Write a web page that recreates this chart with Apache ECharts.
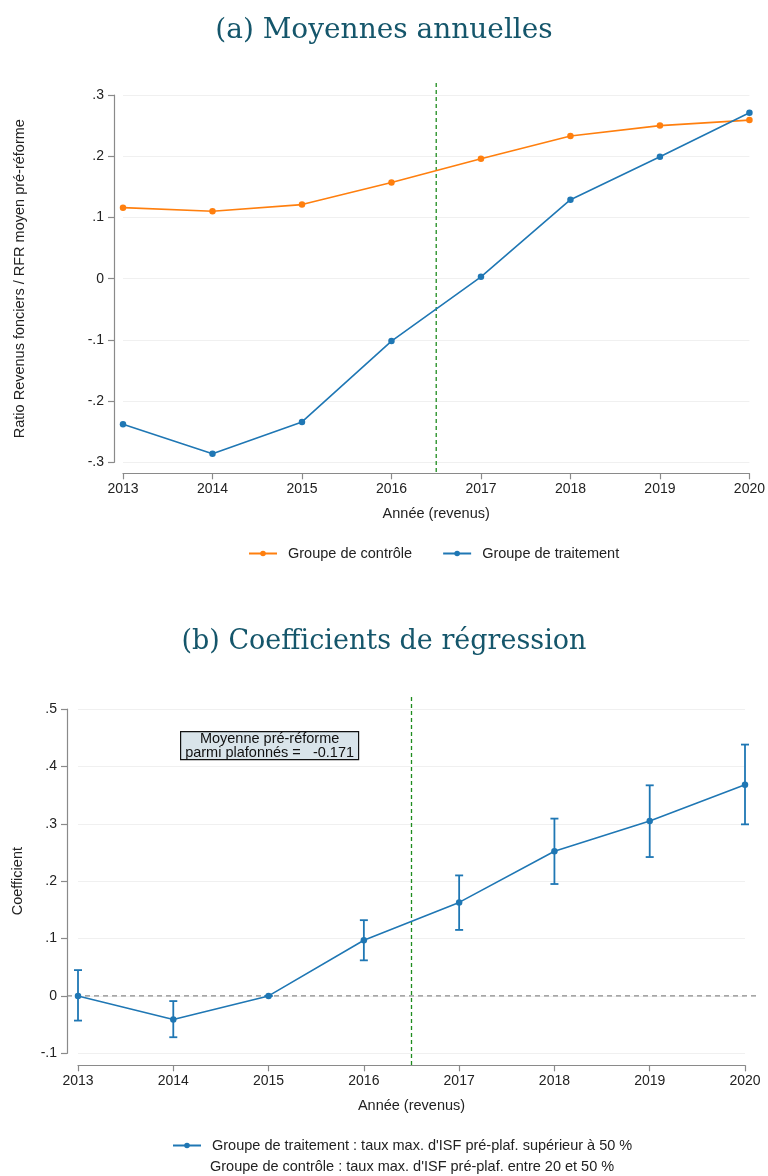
<!DOCTYPE html>
<html><head><meta charset="utf-8">
<script src="https://cdn.jsdelivr.net/npm/echarts@6/dist/echarts.min.js"></script>
<style>html,body{margin:0;padding:0;background:#fff}#c{width:768px;height:1176px}</style>
</head><body><div id="c"></div>
<script>
// ---------- data ----------
const years = [2013, 2014, 2015, 2016, 2017, 2018, 2019, 2020];
const controlMeans = [0.116, 0.110, 0.121, 0.157, 0.196, 0.233, 0.250, 0.259];
const treatMeans = [-0.238, -0.286, -0.234, -0.102, 0.003, 0.129, 0.199, 0.271];
const coefs = [0.000, -0.041, 0.000, 0.097, 0.163, 0.252, 0.305, 0.368];
const ciLow = [-0.043, -0.072, 0.000, 0.062, 0.115, 0.195, 0.242, 0.299];
const ciHigh = [0.045, -0.009, 0.000, 0.132, 0.210, 0.309, 0.367, 0.438];
const reformYear = 2016.5;
const titleA = '(a) Moyennes annuelles';
const titleB = '(b) Coefficients de régression';
const yNameA = 'Ratio Revenus fonciers / RFR moyen pré-réforme';
const yNameB = 'Coefficient';
const xName = 'Année (revenus)';
const nameControl = 'Groupe de contrôle';
const nameTreat = 'Groupe de traitement';
const nameCoef = "Groupe de traitement : taux max. d'ISF pré-plaf. supérieur à 50 %";
const noteControl = "Groupe de contrôle : taux max. d'ISF pré-plaf. entre 20 et 50 %";
const boxLines = ['Moyenne pré-réforme', 'parmi plafonnés =   -0.171'];
const yRangeA = [-0.3, 0.3];
const yRangeB = [-0.1, 0.5];
const yStep = 0.1;

// ---------- styles ----------
const BLUE = '#1f77b4', ORANGE = '#ff7f0e', GREEN = '#1e8c1e';
const FONT = '"Liberation Sans", Arial, sans-serif';
const AXIS = '#8a8a8a';
const TXT = '#222';
const FS = 14.5, TFS = 14;

function yFmt(v) {
  const r = Math.round(v * 10) / 10;
  if (r === 0) return '0';
  return (r < 0 ? '-' : '') + String(Math.abs(r)).replace(/^0/, '');
}

function xAxisCfg(gridIndex, offset) {
  return {
    type: 'value', gridIndex, min: years[0], max: years[years.length - 1], interval: 1,
    offset,
    name: xName, nameLocation: 'middle', nameGap: 33,
    nameTextStyle: { fontFamily: FONT, fontSize: FS, color: TXT },
    axisLine: { show: true, onZero: false, lineStyle: { color: AXIS, width: 1.2 } },
    axisTick: { show: true, length: 6, lineStyle: { color: AXIS, width: 1.2 } },
    axisLabel: { margin: 9, fontFamily: FONT, fontSize: TFS, color: TXT, formatter: v => String(v) },
    splitLine: { show: false }
  };
}
function yAxisCfg(gridIndex, range, offset, name, nameGap) {
  return {
    type: 'value', gridIndex, min: range[0], max: range[1], interval: yStep,
    offset,
    name, nameLocation: 'middle', nameGap,
    nameTextStyle: { fontFamily: FONT, fontSize: FS, color: TXT },
    axisLine: { show: true, onZero: false, lineStyle: { color: AXIS, width: 1.2 } },
    axisTick: { show: true, length: 6, lineStyle: { color: AXIS, width: 1.2 } },
    axisLabel: { margin: 10, fontFamily: FONT, fontSize: TFS, color: TXT, formatter: yFmt },
    splitLine: { show: true, lineStyle: { color: '#f0f0f0', width: 1 } }
  };
}

function vline(xi, yi, topExtra, botExtra) {
  return {
    type: 'custom', xAxisIndex: xi, yAxisIndex: yi, silent: true, z: 1,
    data: [[reformYear, 0]],
    renderItem(params, api) {
      const cs = params.coordSys;
      const x = api.coord([api.value(0), 0])[0];
      return { type: 'line', shape: { x1: x, y1: cs.y - topExtra, x2: x, y2: cs.y + cs.height + botExtra },
        style: { stroke: GREEN, lineWidth: 1.3, lineDash: [4, 3] } };
    }
  };
}

const chart = echarts.init(document.getElementById('c'), null, { renderer: 'canvas' });
chart.setOption({
  animation: false,
  backgroundColor: '#fff',
  title: [
    { text: titleA, left: 'center', top: 12, textStyle: { fontFamily: '"DejaVu Serif", serif', fontSize: 28, fontWeight: 'normal', color: '#15566b' } },
    { text: titleB, left: 'center', top: 623, textStyle: { fontFamily: '"DejaVu Serif", serif', fontSize: 27, fontWeight: 'normal', color: '#15566b' } }
  ],
  grid: [
    { left: 123, right: 18, top: 95, height: 367.3 },
    { left: 78, right: 23, top: 709, height: 344.3 }
  ],
  xAxis: [xAxisCfg(0, 11), xAxisCfg(1, 12)],
  yAxis: [yAxisCfg(0, yRangeA, 9, yNameA, 87), yAxisCfg(1, yRangeB, 11, yNameB, 42)],
  legend: [
    { data: [nameControl, nameTreat], left: 243, top: 541, itemWidth: 28, itemHeight: 7, itemGap: 30,
      textStyle: { fontFamily: FONT, fontSize: FS, color: TXT, padding: [0, 0, 0, 6] } },
    { data: [nameCoef], left: 167, top: 1133, itemWidth: 28, itemHeight: 7,
      textStyle: { fontFamily: FONT, fontSize: FS, color: TXT, padding: [0, 0, 0, 6] } }
  ],
  graphic: [
    { type: 'group', left: 180, top: 731, children: [
      { type: 'rect', shape: { x: 0, y: 0, width: 178, height: 28 }, style: { fill: '#d9e4ea', stroke: '#111', lineWidth: 1.2 } },
      { type: 'text', x: 89, y: 7.5, style: { text: boxLines[0], font: FS + 'px ' + FONT, fill: '#111', textAlign: 'center', textVerticalAlign: 'middle' } },
      { type: 'text', x: 89, y: 21, style: { text: boxLines[1], font: FS + 'px ' + FONT, fill: '#111', textAlign: 'center', textVerticalAlign: 'middle' } }
    ] },
    { type: 'text', left: 210, top: 1159, style: { text: noteControl, font: FS + 'px ' + FONT, fill: TXT } }
  ],
  series: [
    vline(0, 0, 12, 11),
    {
      name: nameControl, type: 'line', xAxisIndex: 0, yAxisIndex: 0, z: 3,
      data: years.map((y, i) => [y, controlMeans[i]]),
      color: ORANGE, symbol: 'circle', symbolSize: 6.5, lineStyle: { width: 1.6, color: ORANGE }, itemStyle: { color: ORANGE }
    },
    {
      name: nameTreat, type: 'line', xAxisIndex: 0, yAxisIndex: 0, z: 3,
      data: years.map((y, i) => [y, treatMeans[i]]),
      color: BLUE, symbol: 'circle', symbolSize: 6.5, lineStyle: { width: 1.6, color: BLUE }, itemStyle: { color: BLUE }
    },
    vline(1, 1, 12, 12),
    {
      type: 'custom', xAxisIndex: 1, yAxisIndex: 1, silent: true, z: 1,
      data: [[years[0], 0]],
      renderItem(params, api) {
        const cs = params.coordSys;
        const y = api.coord([api.value(0), 0])[1];
        return { type: 'line', shape: { x1: cs.x - 11, y1: y, x2: cs.x + cs.width + 12, y2: y },
          style: { stroke: '#8a8a8a', lineWidth: 1.3, lineDash: [5, 4] } };
      }
    },
    {
      type: 'custom', xAxisIndex: 1, yAxisIndex: 1, silent: true, z: 2,
      data: years.map((y, i) => [y, ciLow[i], ciHigh[i]]),
      renderItem(params, api) {
        const lo = api.coord([api.value(0), api.value(1)]);
        const hi = api.coord([api.value(0), api.value(2)]);
        const w = 4;
        const st = { stroke: BLUE, lineWidth: 1.8 };
        return { type: 'group', children: [
          { type: 'line', shape: { x1: lo[0], y1: lo[1], x2: hi[0], y2: hi[1] }, style: st },
          { type: 'line', shape: { x1: lo[0] - w, y1: lo[1], x2: lo[0] + w, y2: lo[1] }, style: st },
          { type: 'line', shape: { x1: hi[0] - w, y1: hi[1], x2: hi[0] + w, y2: hi[1] }, style: st }
        ] };
      }
    },
    {
      name: nameCoef, type: 'line', xAxisIndex: 1, yAxisIndex: 1, z: 3,
      data: years.map((y, i) => [y, coefs[i]]),
      color: BLUE, symbol: 'circle', symbolSize: 6.5, lineStyle: { width: 1.6, color: BLUE }, itemStyle: { color: BLUE }
    }
  ]
});
</script></body></html>
